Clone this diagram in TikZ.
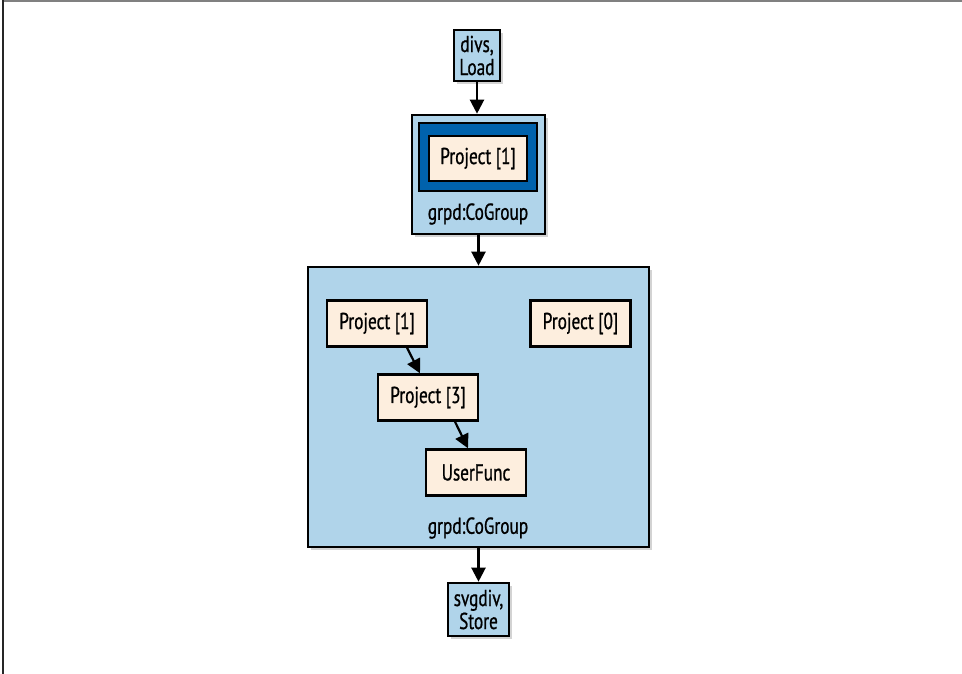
\documentclass[tikz,border=0pt]{standalone}
\usepackage{fontspec}
\setmainfont{PT Sans}[FakeStretch=0.75, FakeBold=0.8]
\usepackage{tikz}
\usetikzlibrary{arrows.meta,shapes,positioning,calc,shadows}
\usepackage{xcolor}

\definecolor{pigblue}{RGB}{176,212,234}
\definecolor{pigdark}{RGB}{0,98,172}
\definecolor{pigcream}{RGB}{253,238,222}

\begin{document}
\begin{tikzpicture}[
    x=1pt, y=-1pt,
    font=\fontsize{23}{23}\selectfont,
    >={Triangle[length=14pt,width=14pt]},
    every node/.style={inner sep=0pt, align=center},
    shade box/.style={drop shadow={shadow xshift=3pt, shadow yshift=-3pt, opacity=0.35}},
    io/.style={draw, line width=2.6pt, fill=pigblue, shade box},
    group/.style={draw, line width=2.6pt, fill=pigblue, shade box},
    op/.style={draw, line width=2.4pt, fill=pigcream, minimum width=100pt, minimum height=46pt},
    flow/.style={->, line width=2.2pt}
]
\useasboundingbox (0,0) rectangle (962,674);

% page frame
\draw[gray, line width=2pt] (2,1.5) -- (962,1.5);
\draw[black!85, line width=2pt] (2.5,0.5) -- (2.5,674);

% load
\node[io, minimum width=46pt, minimum height=51pt] (load) at (477,55.5) {divs,\\Load};

% first cogroup
\node[group, minimum width=133pt, minimum height=119pt] (grp1) at (478.5,174.5) {};
\node[draw, line width=1.5pt, fill=pigdark, minimum width=118pt, minimum height=68pt] (nest) at (478,157) {};
\node[op, minimum width=98pt, minimum height=45pt] (proj1a) at (478,158.5) {Project [1]};
\node (lab1) at (478,214) {grpd:CoGroup};

% second cogroup
\node[group, minimum width=341pt, minimum height=280pt] (grp2) at (478.5,407) {};
\node[op] (proj1b) at (377,323.5) {Project [1]};
\node[op] (proj0) at (580.5,323.5) {Project [0]};
\node[op] (proj3) at (428,397.5) {Project [3]};
\node[op] (ufunc) at (476,472.5) {UserFunc};
\node (lab2) at (478,528) {grpd:CoGroup};

% store
\node[io, minimum width=61pt, minimum height=53pt] (store) at (478.5,609.5) {svgdiv,\\Store};

% connectors
\draw[flow] (load.south) -- (load.south |- grp1.north);
\draw[flow] (grp1.south) -- (grp1.south |- grp2.north);
\draw[flow] ([xshift=30pt]proj1b.south) -- ([xshift=-8pt]proj3.north);
\draw[flow] ([xshift=27pt]proj3.south) -- ([xshift=-8pt]ufunc.north);
\draw[flow] (grp2.south) -- (grp2.south |- store.north);

\end{tikzpicture}
\end{document}
